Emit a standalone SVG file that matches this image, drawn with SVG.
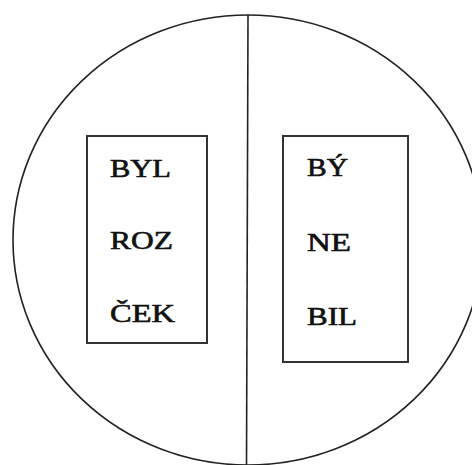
<svg xmlns="http://www.w3.org/2000/svg" width="472" height="465" viewBox="0 0 472 465">
<style>
.outline{fill:none;stroke:#222;stroke-width:1.6}
.box{fill:#fff;stroke:#333;stroke-width:2}
.lbl{font-family:"Liberation Serif","Times New Roman",serif;font-size:25px;fill:#111;stroke:#111;stroke-width:0.6}
</style>
<rect width="472" height="465" fill="#fff"/>
<g id="frame">
<ellipse class="outline" cx="248" cy="240" rx="235" ry="225"/>
</g>
<g id="connectors">
<line class="outline" x1="248" y1="15" x2="246.5" y2="465"/>
</g>
<g id="left-box">
<rect class="box" x="87" y="136" width="120" height="207"/>
<text class="lbl" x="110" y="177" textLength="61" lengthAdjust="spacingAndGlyphs">BYL</text>
<text class="lbl" x="110" y="249" textLength="63" lengthAdjust="spacingAndGlyphs">ROZ</text>
<text class="lbl" x="110" y="322" textLength="65" lengthAdjust="spacingAndGlyphs">ČEK</text>
</g>
<g id="right-box">
<rect class="box" x="283" y="136" width="125" height="226"/>
<text class="lbl" x="307" y="176" textLength="41" lengthAdjust="spacingAndGlyphs">BÝ</text>
<text class="lbl" x="307" y="251" textLength="44" lengthAdjust="spacingAndGlyphs">NE</text>
<text class="lbl" x="307" y="325" textLength="50" lengthAdjust="spacingAndGlyphs">BIL</text>
</g>
</svg>
